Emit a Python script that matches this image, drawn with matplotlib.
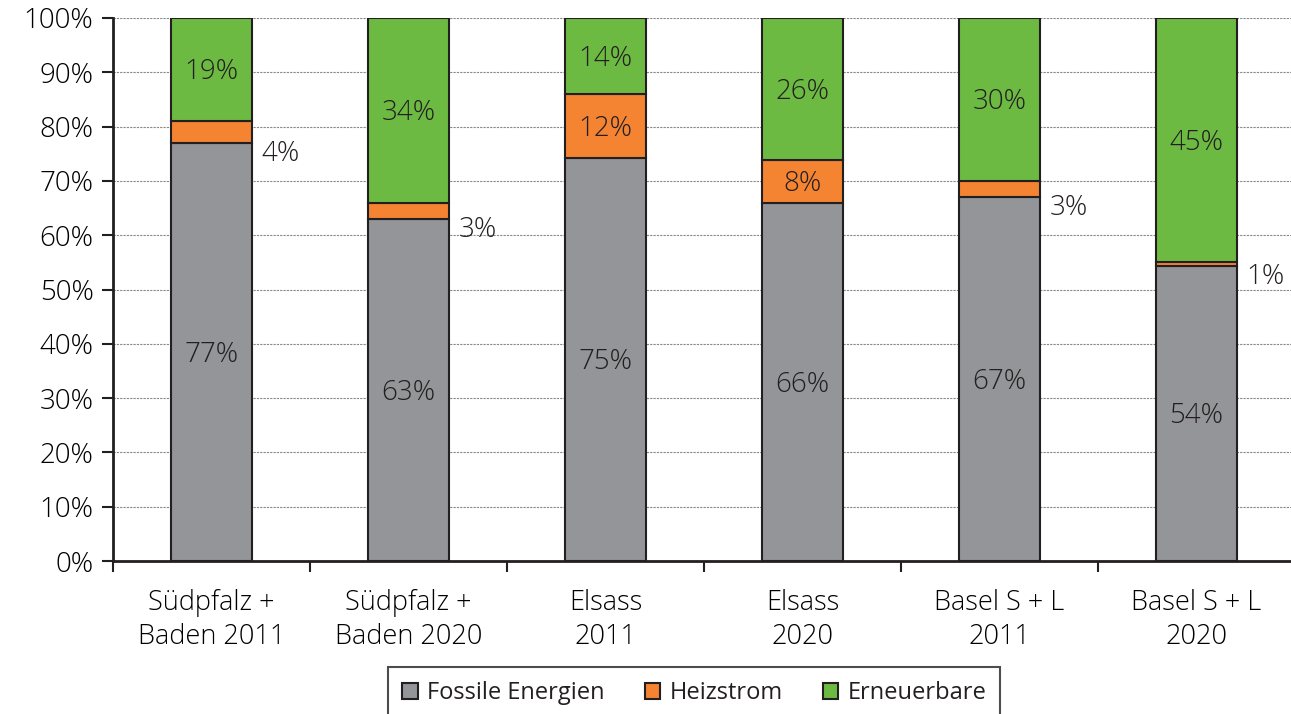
import matplotlib.pyplot as plt
import numpy as np

plt.rcParams['font.family'] = ['Open Sans', 'DejaVu Sans']
plt.rcParams['font.weight'] = 'light'
plt.rcParams['text.color'] = '#231f20'

# Daten (Anteile in %)
kategorien = ['Südpfalz +\nBaden 2011', 'Südpfalz +\nBaden 2020', 'Elsass\n2011',
              'Elsass\n2020', 'Basel S + L\n2011', 'Basel S + L\n2020']
fossil = [77, 63, 74.2, 65.9, 67, 54.3]
heizstrom = [4, 2.9, 11.8, 7.9, 3, 0.8]
erneuerbar = [19, 34.1, 14, 26.2, 30, 44.9]
fossil_txt = ['77%', '63%', '75%', '66%', '67%', '54%']
heiz_txt = ['4%', '3%', '12%', '8%', '3%', '1%']
ern_txt = ['19%', '34%', '14%', '26%', '30%', '45%']
heiz_innen = [False, False, True, True, False, False]

farben = ['#939598', '#f58432', '#6dba43']
rand = '#231f20'

fig = plt.figure(figsize=(12.91, 7.14), dpi=100)
ax = fig.add_axes([113 / 1291, 153 / 714, 1182 / 1291, 543 / 714])

x = np.arange(len(kategorien))
b = 0.41
fossil = np.array(fossil)
heizstrom = np.array(heizstrom)
erneuerbar = np.array(erneuerbar)

ax.bar(x, fossil, b, color=farben[0], edgecolor=rand, lw=1.5, label='Fossile Energien', zorder=3)
ax.bar(x, heizstrom, b, bottom=fossil, color=farben[1], edgecolor=rand, lw=1.5, label='Heizstrom', zorder=3)
ax.bar(x, erneuerbar, b, bottom=fossil + heizstrom, color=farben[2], edgecolor=rand, lw=1.5,
       label='Erneuerbare', zorder=3)

fs = 20
for i in range(len(x)):
    ax.text(x[i], fossil[i] / 2 - 0.5, fossil_txt[i], ha='center', va='center', fontsize=fs, zorder=4)
    ax.text(x[i], fossil[i] + heizstrom[i] + erneuerbar[i] / 2 - 0.5, ern_txt[i],
            ha='center', va='center', fontsize=fs, zorder=4)
    if heiz_innen[i]:
        ax.text(x[i], fossil[i] + heizstrom[i] / 2 - 0.5, heiz_txt[i], ha='center', va='center',
                fontsize=fs, zorder=4)
    else:
        ax.text(x[i] + b / 2 + 0.05, fossil[i] - 2, heiz_txt[i], ha='left', va='center',
                fontsize=fs, zorder=4)

ax.set_xlim(-0.5, 5.5)
ax.set_ylim(0, 100)
ax.set_yticks(np.arange(0, 101, 10))
ax.set_yticklabels([f'{v}%' for v in range(0, 101, 10)], fontsize=fs)
ax.yaxis.grid(True, color='#888888', linestyle=(0, (2, 1)), lw=0.8, zorder=0)

ax.set_xticks(np.arange(-0.5, 5.5, 1))
ax.set_xticklabels([])
ax.set_xticks(x, minor=True)
ax.set_xticklabels(kategorien, minor=True, fontsize=19.5, linespacing=1.3)
ax.tick_params(axis='x', which='minor', length=0, pad=20)
ax.tick_params(axis='x', which='major', length=8, width=1.5, direction='out', color=rand)
ax.tick_params(axis='y', length=8, width=1.5, direction='out', color=rand, pad=6)

for s in ['top', 'right']:
    ax.spines[s].set_visible(False)
for s in ['left', 'bottom']:
    ax.spines[s].set_linewidth(2)
    ax.spines[s].set_color(rand)

leg = fig.legend(loc='upper left', bbox_to_anchor=(388 / 1291, 1 - 667 / 714), ncol=3,
                 fontsize=17, frameon=True, fancybox=False, edgecolor=rand,
                 handlelength=0.65, handleheight=0.65, handletextpad=0.4, columnspacing=1.7,
                 borderpad=0.6, borderaxespad=0)
leg.get_frame().set_linewidth(1.5)
for t in leg.get_texts():
    t.set_fontweight('normal')

plt.savefig('out.png', dpi=100)
